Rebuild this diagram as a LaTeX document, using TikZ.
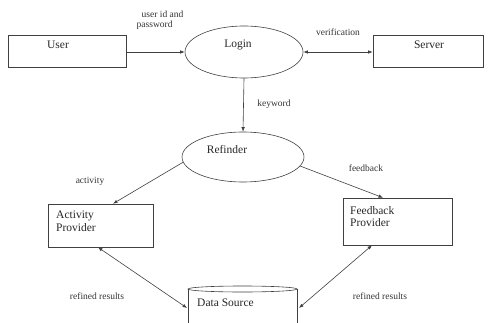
\documentclass[tikz,border=0pt]{standalone}
\usepackage{fontspec}
\setmainfont{Liberation Serif}
\usetikzlibrary{arrows.meta,shapes.geometric}
\begin{document}
\begin{tikzpicture}[x=1pt,y=-1pt,
  line/.style={draw=black!75, line width=0.6pt},
  arr/.style={line, -{Latex[length=4.5pt,width=3.5pt]}},
  darr/.style={line, {Latex[length=4.5pt,width=3.5pt]}-{Latex[length=4.5pt,width=3.5pt]}},
  box/.style={line, rectangle, inner sep=0pt},
  oval/.style={line, ellipse, inner sep=0pt},
  boxtext/.style={font=\fontsize{11.5}{12.5}\selectfont, text=black!85, inner sep=0pt, align=left},
  lbl/.style={font=\fontsize{9.5}{10.5}\selectfont, text=black!80, inner sep=0pt, align=left}]
\useasboundingbox (0,0) rectangle (494,323);
% boxes
\node[box, minimum width=118pt, minimum height=32pt] (user) at (67,51) {};
\node[boxtext] (usert) at (58,45) {User};
\node[oval, minimum width=118pt, minimum height=52pt] (login) at (244,52) {};
\node[boxtext] (logint) at (238,45) {Login};
\node[box, minimum width=110pt, minimum height=32pt] (server) at (428,51) {};
\node[boxtext] (servert) at (429,45) {Server};
\node[oval, minimum width=122pt, minimum height=50pt] (ref) at (243,157) {};
\node[boxtext] (reft) at (227,150) {Refinder};
\node[box, minimum width=105pt, minimum height=43pt] (act) at (100.5,225.5) {};
\node[boxtext, anchor=west] (actt) at (56,221) {Activity\\Provider};
\node[box, minimum width=109pt, minimum height=47pt] (fb) at (397.5,221.5) {};
\node[boxtext, anchor=west] (fbt) at (350,216.5) {Feedback\\Provider};
% data source cylinder
\draw[line] (242.5,289) ellipse (54.5pt and 3pt);
\draw[line] (188,289) -- (188,330);
\draw[line] (297,289) -- (297,330);
\node[boxtext, anchor=west] (dst) at (197,303) {Data Source};
\coordinate (dsl) at (187,308);
\coordinate (dsr) at (299,308);
% connectors
\draw[arr] (user.east |- login.west) -- (login.west);
\draw[darr] (login.east) -- (server.west |- login.east);
\draw[arr] (login.south) -- (ref.north);
\draw[arr] (ref.185) -- ([xshift=12.5pt]act.north);
\draw[arr] (ref.-9) -- ([xshift=-14.5pt]fb.north);
\draw[darr] ([xshift=-2.5pt]act.south) -- (dsl);
\draw[darr] ([xshift=-25.5pt]fb.south) -- (dsr);
% labels
\node[lbl] (l1) at (160,20) {\hspace*{5pt}user id and\\password};
\node[lbl] (l2) at (338,32) {verification};
\node[lbl] (l3) at (274,104) {keyword};
\node[lbl] (l4) at (90,181) {activity};
\node[lbl] (l5) at (366,168) {feedback};
\node[lbl] (l6) at (97,296) {refined results};
\node[lbl] (l7) at (380,296) {refined results};
\end{tikzpicture}
\end{document}
